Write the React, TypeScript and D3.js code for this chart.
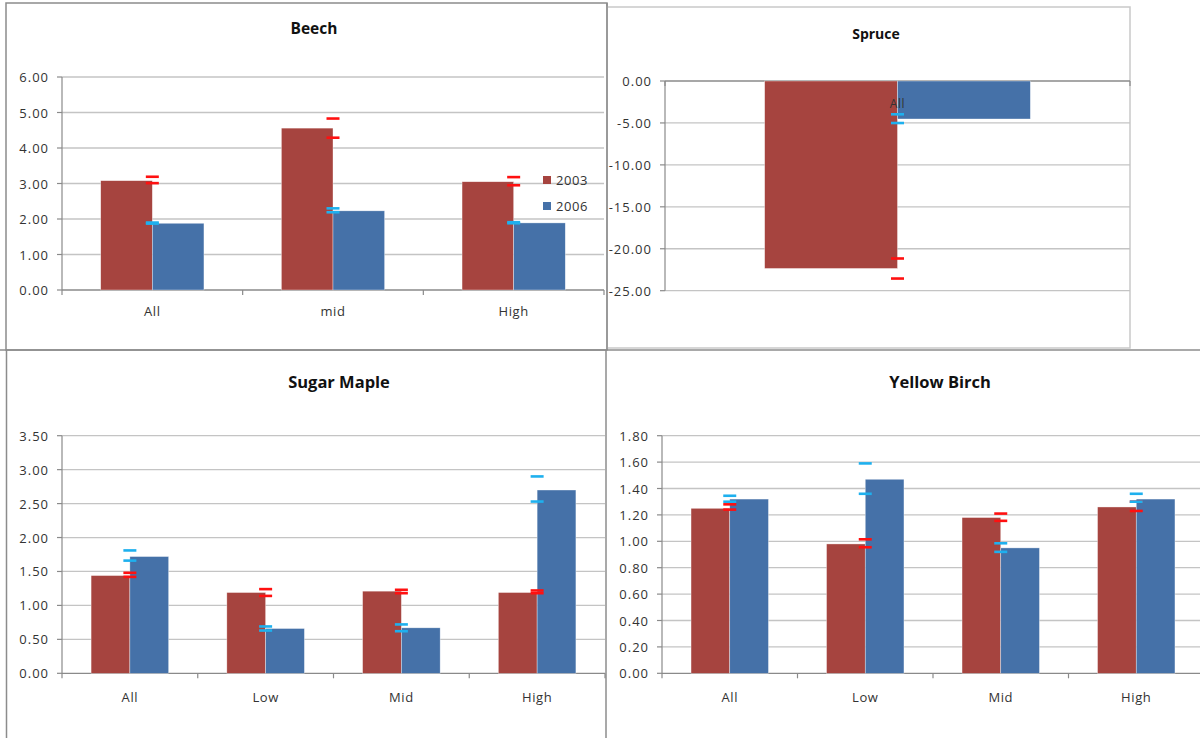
import React from "react";
import * as d3 from "d3";

// Series (survey years) and their colours
const SERIES = ["2003", "2006"];
const BAR_COLORS = ["#A6443F", "#4571A8"];
const ERR_COLORS = ["#FF1010", "#1EB0EE"];

// Beech
const beechCategories = ["All", "mid", "High"];
const beech2003 = [3.08, 4.56, 3.05];
const beech2006 = [1.88, 2.23, 1.89];
const beechErr2003 = [[3.01, 3.19], [4.29, 4.83], [2.95, 3.18]];
const beechErr2006 = [[1.87, 1.9], [2.19, 2.3], [1.88, 1.91]];
const beechTicks = [0, 1, 2, 3, 4, 5, 6];

// Spruce
const spruceCategories = ["All"];
const spruce2003 = [-22.35];
const spruce2006 = [-4.53];
const spruceErr2003 = [[-23.55, -21.16]];
const spruceErr2006 = [[-5.01, -3.97]];
const spruceTicks = [0, -5, -10, -15, -20, -25];

// Sugar Maple
const mapleCategories = ["All", "Low", "Mid", "High"];
const maple2003 = [1.44, 1.19, 1.21, 1.19];
const maple2006 = [1.72, 0.66, 0.67, 2.7];
const mapleErr2003 = [[1.42, 1.48], [1.14, 1.24], [1.18, 1.23], [1.18, 1.22]];
const mapleErr2006 = [[1.66, 1.81], [0.63, 0.69], [0.62, 0.72], [2.53, 2.9]];
const mapleTicks = [0, 0.5, 1, 1.5, 2, 2.5, 3, 3.5];

// Yellow Birch
const birchCategories = ["All", "Low", "Mid", "High"];
const birch2003 = [1.25, 0.98, 1.18, 1.26];
const birch2006 = [1.32, 1.47, 0.95, 1.32];
const birchErr2003 = [[1.24, 1.28], [0.955, 1.015], [1.155, 1.21], [1.23, 1.3]];
const birchErr2006 = [[1.3, 1.345], [1.36, 1.59], [0.92, 0.985], [1.3, 1.36]];
const birchTicks = [0, 0.2, 0.4, 0.6, 0.8, 1.0, 1.2, 1.4, 1.6, 1.8];

const FONT = "'Open Sans', 'DejaVu Sans', sans-serif";
const GRID = "#C4C4C4";
const AXIS = "#8A8A8A";
const FRAME = "#8C8C8C";

type PanelProps = {
  title: string;
  titleX: number;
  titleY: number;
  titleSize: number;
  categories: string[];
  values: number[][];
  errors: number[][][];
  ticks: number[];
  x0: number;
  x1: number;
  yTop: number;
  yBottom: number;
  catLabelOffset: number;
  catLabelSize?: number;
  legend?: { x: number; y: number; gap: number };
  clipRight?: number;
};

function Panel(p: PanelProps) {
  const domainTop = d3.max(p.ticks) as number;
  const domainBottom = d3.min(p.ticks) as number;
  const y = d3.scaleLinear().domain([domainBottom, domainTop]).range([p.yBottom, p.yTop]);
  const x = d3
    .scaleBand<string>()
    .domain(p.categories)
    .range([p.x0, p.x1])
    .paddingInner(1.5 / 3.5)
    .paddingOuter(0.75 / 3.5);
  const sub = d3.scaleBand<string>().domain(SERIES).range([0, x.bandwidth()]);
  const step = x.step();
  const zero = y(0);
  const gridRight = p.clipRight !== undefined ? Math.min(p.x1, p.clipRight) : p.x1;

  return (
    <g>
      <text
        x={p.titleX}
        y={p.titleY}
        textAnchor="middle"
        dominantBaseline="central"
        fontFamily={FONT}
        fontWeight={700}
        fontSize={p.titleSize}
        fill="#111"
      >
        {p.title}
      </text>

      {/* horizontal gridlines */}
      {p.ticks.map((t) => (
        <line
          key={"g" + t}
          x1={p.x0}
          x2={gridRight}
          y1={y(t)}
          y2={y(t)}
          stroke={t === 0 ? AXIS : GRID}
          strokeWidth={1.3}
        />
      ))}

      {/* value axis */}
      <line x1={p.x0} x2={p.x0} y1={p.yTop} y2={p.yBottom} stroke={AXIS} strokeWidth={1.2} />
      {p.ticks.map((t) => (
        <g key={"t" + t}>
          <line x1={p.x0 - 5} x2={p.x0} y1={y(t)} y2={y(t)} stroke={AXIS} strokeWidth={1.2} />
          <text
            x={p.x0 - 13}
            y={y(t)}
            textAnchor="end"
            dominantBaseline="central"
            fontFamily={FONT}
            fontSize={13}
            letterSpacing={1}
            fill="#333"
          >
            {t.toFixed(2)}
          </text>
        </g>
      ))}

      {/* category axis ticks */}
      {d3.range(p.categories.length + 1).map((i) => {
        const tx = p.x0 + i * step;
        return tx <= gridRight + 0.5 ? (
          <line key={"c" + i} x1={tx} x2={tx} y1={zero} y2={zero + 5} stroke={AXIS} strokeWidth={1.2} />
        ) : null;
      })}

      {/* bars */}
      {p.categories.map((c, ci) =>
        SERIES.map((s, si) => {
          const v = p.values[si][ci];
          const yv = y(v);
          return (
            <rect
              key={c + s}
              x={(x(c) as number) + (sub(s) as number)}
              width={sub.bandwidth()}
              y={Math.min(yv, zero)}
              height={Math.abs(zero - yv)}
              fill={BAR_COLORS[si]}
              stroke="#ffffff"
              strokeOpacity={0.6}
              strokeWidth={0.6}
            />
          );
        })
      )}

      {/* error caps at the group centre */}
      {p.categories.map((c, ci) =>
        SERIES.map((s, si) =>
          p.errors[si][ci].map((ev, k) => {
            const cx = (x(c) as number) + x.bandwidth() / 2;
            return (
              <line
                key={c + s + k}
                x1={cx - 6.5}
                x2={cx + 6.5}
                y1={y(ev)}
                y2={y(ev)}
                stroke={ERR_COLORS[si]}
                strokeWidth={2.6}
              />
            );
          })
        )
      )}

      {/* category labels */}
      {p.categories.map((c) => (
        <text
          key={"l" + c}
          x={(x(c) as number) + x.bandwidth() / 2}
          y={zero + p.catLabelOffset}
          textAnchor="middle"
          dominantBaseline="central"
          fontFamily={FONT}
          fontSize={p.catLabelSize ?? 13}
          letterSpacing={0.6}
          fill="#333"
        >
          {c}
        </text>
      ))}

      {p.legend &&
        SERIES.map((s, si) => (
          <g key={"lg" + s}>
            <rect
              x={p.legend!.x}
              y={p.legend!.y + si * p.legend!.gap - 4}
              width={8}
              height={8}
              fill={BAR_COLORS[si]}
            />
            <text
              x={p.legend!.x + 13}
              y={p.legend!.y + si * p.legend!.gap}
              dominantBaseline="central"
              fontFamily={FONT}
              fontSize={13}
              letterSpacing={0.6}
              fill="#333"
            >
              {s}
            </text>
          </g>
        ))}
    </g>
  );
}

export default function App() {
  return (
    <svg
      width={1200}
      height={738}
      style={{ position: "absolute", left: 0, top: 0, background: "#fff" }}
    >
      <rect x={0} y={0} width={1200} height={738} fill="#fff" />

      {/* frames */}
      <rect x={6} y={3} width={601} height={347} fill="none" stroke={FRAME} strokeWidth={1.5} />
      <rect x={607} y={7} width={523} height={341} fill="none" stroke="#C9C9C9" strokeWidth={1.5} />
      <line x1={607} x2={607} y1={3} y2={350} stroke={FRAME} strokeWidth={1.5} />
      <line x1={0} x2={1200} y1={350} y2={350} stroke={FRAME} strokeWidth={1.5} />
      <line x1={6.5} x2={6.5} y1={350} y2={738} stroke={FRAME} strokeWidth={1.5} />
      <line x1={606} x2={606} y1={350} y2={738} stroke={FRAME} strokeWidth={1.5} />

      <Panel
        title="Beech"
        titleX={314}
        titleY={28}
        titleSize={15.5}
        categories={beechCategories}
        values={[beech2003, beech2006]}
        errors={[beechErr2003, beechErr2006]}
        ticks={beechTicks}
        x0={62}
        x1={604}
        yTop={77}
        yBottom={290}
        catLabelOffset={21}
        legend={{ x: 543, y: 180, gap: 26 }}
      />
      <Panel
        title="Spruce"
        titleX={876}
        titleY={33}
        titleSize={14}
        categories={spruceCategories}
        values={[spruce2003, spruce2006]}
        errors={[spruceErr2003, spruceErr2006]}
        ticks={spruceTicks}
        x0={665}
        x1={1130}
        yTop={81}
        yBottom={290.7}
        catLabelOffset={22}
        catLabelSize={12}
      />
      <Panel
        title="Sugar Maple"
        titleX={339}
        titleY={381}
        titleSize={16.5}
        categories={mapleCategories}
        values={[maple2003, maple2006]}
        errors={[mapleErr2003, mapleErr2006]}
        ticks={mapleTicks}
        x0={62}
        x1={605}
        yTop={435.7}
        yBottom={673.3}
        catLabelOffset={24}
      />
      <Panel
        title="Yellow Birch"
        titleX={940}
        titleY={381}
        titleSize={16.5}
        categories={birchCategories}
        values={[birch2003, birch2006]}
        errors={[birchErr2003, birchErr2006]}
        ticks={birchTicks}
        x0={662}
        x1={1204}
        yTop={435.7}
        yBottom={673.3}
        catLabelOffset={24}
        clipRight={1200}
      />
    </svg>
  );
}
